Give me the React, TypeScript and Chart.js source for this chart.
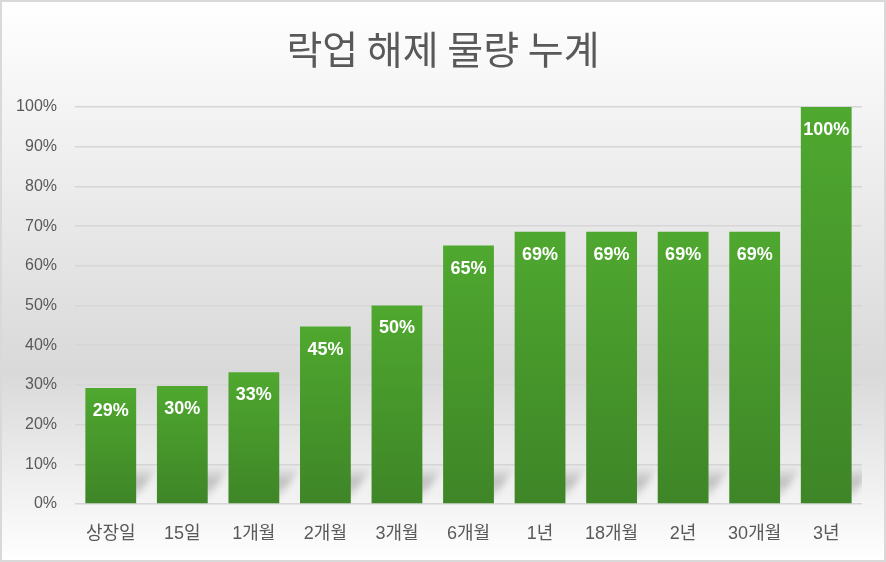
import React, { useEffect, useRef } from "react";
import { Chart, registerables } from "chart.js";

Chart.register(...registerables);

const TITLE = "락업 해제 물량 누계";
const categories = ["상장일", "15일", "1개월", "2개월", "3개월", "6개월", "1년", "18개월", "2년", "30개월", "3년"];
const cumulativePct = [29.2, 29.7, 33.2, 44.7, 50, 65.1, 68.6, 68.6, 68.6, 68.6, 100];
const yTicks = [0, 10, 20, 30, 40, 50, 60, 70, 80, 90, 100];

const FONT = "'Liberation Sans', Arial, 'Noto Sans CJK KR', sans-serif";

const bgPlugin = {
  id: "bgPlugin",
  beforeDraw(chart: any) {
    const { ctx, width, height } = chart;
    ctx.save();
    const g = ctx.createLinearGradient(0, 0, 0, height);
    g.addColorStop(0, "#ffffff");
    g.addColorStop(0.66, "#d9d9d9");
    g.addColorStop(1, "#ffffff");
    ctx.fillStyle = g;
    ctx.fillRect(0, 0, width, height);
    ctx.fillStyle = "#595959";
    ctx.font = `normal 39px 'Noto Sans CJK KR', sans-serif`;
    ctx.textAlign = "center";
    ctx.textBaseline = "middle";
    ctx.fillText(TITLE, width / 2, 49);
    ctx.restore();
  },
  beforeDatasetsDraw(chart: any) {
    const { ctx } = chart;
    const meta = chart.getDatasetMeta(0);
    const base = chart.scales.y.getPixelForValue(0);
    ctx.save();
    ctx.beginPath();
    ctx.rect(chart.chartArea.left, chart.chartArea.top, chart.chartArea.right - chart.chartArea.left, base - chart.chartArea.top);
    ctx.clip();
    ctx.filter = "blur(3px)";
    meta.data.forEach((bar: any) => {
      const half = bar.width / 2;
      const L = bar.x - half;
      const R = bar.x + half;
      const b = base - 6;
      const h = 32;
      const dx = 22;
      const g = ctx.createLinearGradient(0, b - h, 0, b);
      g.addColorStop(0, "rgba(0,0,0,0)");
      g.addColorStop(0.5, "rgba(0,0,0,0.2)");
      g.addColorStop(1, "rgba(0,0,0,0.05)");
      ctx.fillStyle = g;
      ctx.beginPath();
      ctx.moveTo(L, b);
      ctx.lineTo(R, b);
      ctx.lineTo(R + dx, b - h);
      ctx.lineTo(L + dx, b - h);
      ctx.closePath();
      ctx.fill();
    });
    ctx.restore();
  },
  afterDatasetsDraw(chart: any) {
    const { ctx } = chart;
    const meta = chart.getDatasetMeta(0);
    ctx.save();
    ctx.fillStyle = "#ffffff";
    ctx.font = `bold 18px ${FONT}`;
    ctx.textAlign = "center";
    ctx.textBaseline = "middle";
    meta.data.forEach((bar: any, i: number) => {
      ctx.fillText(Math.round(cumulativePct[i]) + "%", bar.x, bar.y + 23);
    });
    ctx.restore();
  },
  afterDraw(chart: any) {
    const { ctx, width, height } = chart;
    ctx.save();
    ctx.strokeStyle = "#d9d9d9";
    ctx.lineWidth = 2;
    ctx.strokeRect(1, 1, width - 2, height - 2);
    ctx.restore();
  },
};

export default function App() {
  const ref = useRef<HTMLCanvasElement | null>(null);
  useEffect(() => {
    document.body.style.margin = "0";
    const canvas = ref.current;
    if (!canvas) return;
    const chart = new Chart(canvas, {
      type: "bar",
      data: {
        labels: categories,
        datasets: [
          {
            data: cumulativePct,
            backgroundColor: (c: any) => {
              const ch = c.chart;
              const y = ch.scales && ch.scales.y;
              if (!y || typeof c.raw !== "number") return "#48992b";
              const top = y.getPixelForValue(c.raw);
              const bottom = y.getPixelForValue(0);
              if (!isFinite(top) || !isFinite(bottom) || top === bottom) return "#48992b";
              const g = ch.ctx.createLinearGradient(0, top, 0, bottom);
              g.addColorStop(0, "#4fa82f");
              g.addColorStop(1, "#3e8527");
              return g;
            },
            borderWidth: 0,
            barPercentage: 0.71,
            categoryPercentage: 1,
          },
        ],
      },
      options: {
        responsive: false,
        animation: false,
        devicePixelRatio: 1,
        layout: { padding: { left: 0, right: 24, top: 107, bottom: 0 } },
        plugins: {
          legend: { display: false },
          tooltip: { enabled: false },
          title: { display: false },
        },
        scales: {
          x: {
            grid: { display: false, drawTicks: false },
            border: { display: false },
            ticks: {
              color: "#595959",
              font: { family: FONT, size: 18 },
              padding: 19,
              maxRotation: 0,
              autoSkip: false,
            },
            afterFit: (s: any) => {
              s.height = 58;
            },
          },
          y: {
            min: 0,
            max: 100,
            afterBuildTicks: (s: any) => {
              s.ticks = yTicks.map((v) => ({ value: v }));
            },
            grid: { color: "#d6d6d6", lineWidth: 1.5, drawTicks: false },
            border: { display: false },
            ticks: {
              color: "#595959",
              font: { family: FONT, size: 16 },
              padding: 18,
              callback: (v: any) => v + "%",
            },
            afterFit: (s: any) => {
              s.width = 75;
            },
          },
        },
      },
      plugins: [bgPlugin],
    });
    return () => chart.destroy();
  }, []);
  return <canvas ref={ref} width={886} height={562} style={{ display: "block" }} />;
}
